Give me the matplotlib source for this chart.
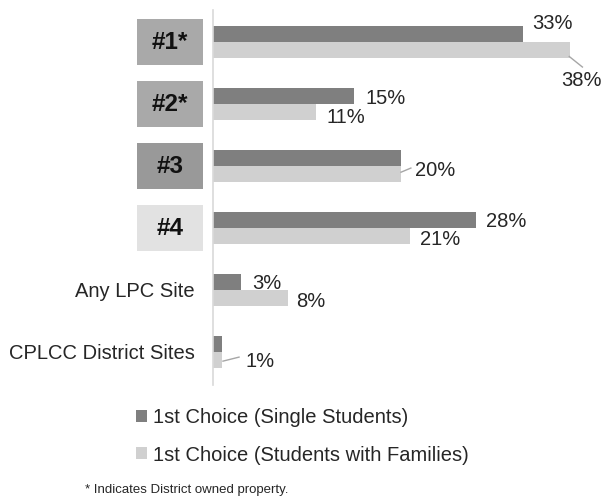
import matplotlib
matplotlib.use("Agg")
import matplotlib.pyplot as plt
from matplotlib.patches import Rectangle
import numpy as np

plt.rcParams['font.family'] = ['Liberation Sans', 'DejaVu Sans']

categories = ["#1*", "#2*", "#3", "#4", "Any LPC Site", "CPLCC District Sites"]
single = [33, 15, 20, 28, 3, 1]
families = [38, 11, 20, 21, 8, 1]
single_labels = ["33%", "15%", "", "28%", "3%", ""]
family_labels = ["38%", "11%", "20%", "21%", "8%", "1%"]
boxed = [True, True, True, True, False, False]
box_colors = ["#a9a9a9", "#a9a9a9", "#999999", "#e2e2e2", None, None]
series_names = ["1st Choice (Single Students)", "1st Choice (Students with Families)"]
footnote = "* Indicates District owned property."

W, H = 603, 499
fig = plt.figure(figsize=(W / 100, H / 100), dpi=100)
ax = fig.add_axes([213 / W, 1 - 385 / H, 376 / W, 375 / H])

dark = "#7f7f7f"
light = "#d0d0d0"
txt = "#262626"
y = np.arange(len(categories))
bh = 0.258
b1 = ax.barh(y - bh / 2, single, height=bh, color=dark, label=series_names[0])
b2 = ax.barh(y + bh / 2, families, height=bh, color=light, label=series_names[1])

ax.set_xlim(0, 40)
ax.set_ylim(5.53, -0.52)
ax.set_xticks([])
ax.set_yticks([])
for s in ["top", "right", "bottom"]:
    ax.spines[s].set_visible(False)
ax.spines["left"].set_color("#d9d9d9")
ax.spines["left"].set_linewidth(1.2)

FS = 14.5
# value labels (placement offsets)
s_pos = [(34.0, -0.30), (16.2, 0.903), None, (29.0, 2.887), (4.15, 3.90), None]
f_pos = [(37.0, 0.61), (12.1, 1.21), (21.5, 2.065), (22.0, 3.177), (8.8, 4.18), (3.5, 5.15)]
for i in range(len(categories)):
    if single_labels[i] and s_pos[i]:
        ax.text(s_pos[i][0], s_pos[i][1], single_labels[i], ha="left", va="center",
                fontsize=FS, color=txt, clip_on=False)
    if family_labels[i] and f_pos[i]:
        ax.text(f_pos[i][0], f_pos[i][1], family_labels[i], ha="left", va="center",
                fontsize=FS, color=txt, clip_on=False)

# leader lines
leaders = [((37.9, 0.23), (39.3, 0.40)), ((20.0, 2.097), (21.05, 2.03)), ((1.06, 5.145), (2.77, 5.08))]
for (x0, y0), (x1, y1) in leaders:
    ax.plot([x0, x1], [y0, y1], color="#a6a6a6", lw=1, clip_on=False)

# category labels
trans = matplotlib.transforms.blended_transform_factory(ax.transAxes, ax.transData)
for i, cat in enumerate(categories):
    if boxed[i]:
        r = Rectangle((-0.202, i - 0.371), 0.1755, 0.742, transform=trans,
                      facecolor=box_colors[i], edgecolor="none", clip_on=False)
        ax.add_patch(r)
        ax.text(-0.1145, i, cat, transform=trans, ha="center", va="center",
                fontsize=17.5, fontweight="bold", color="#111111")
    else:
        ax.text(-0.048, i + 0.02, cat, transform=trans, ha="right", va="center",
                fontsize=FS, color=txt)

leg = fig.legend([b1, b2], series_names, loc="upper left",
                 bbox_to_anchor=(136 / W, 1 - 408 / H), frameon=False,
                 fontsize=FS, handlelength=0.55, handleheight=0.55,
                 handletextpad=0.3, labelspacing=0.92, borderpad=0, borderaxespad=0)
for t in leg.get_texts():
    t.set_color(txt)

fig.text(85 / W, 1 - 490 / H, footnote, ha="left", va="center", fontsize=9.5,
         color=txt)

fig.savefig("out.png", dpi=100)
